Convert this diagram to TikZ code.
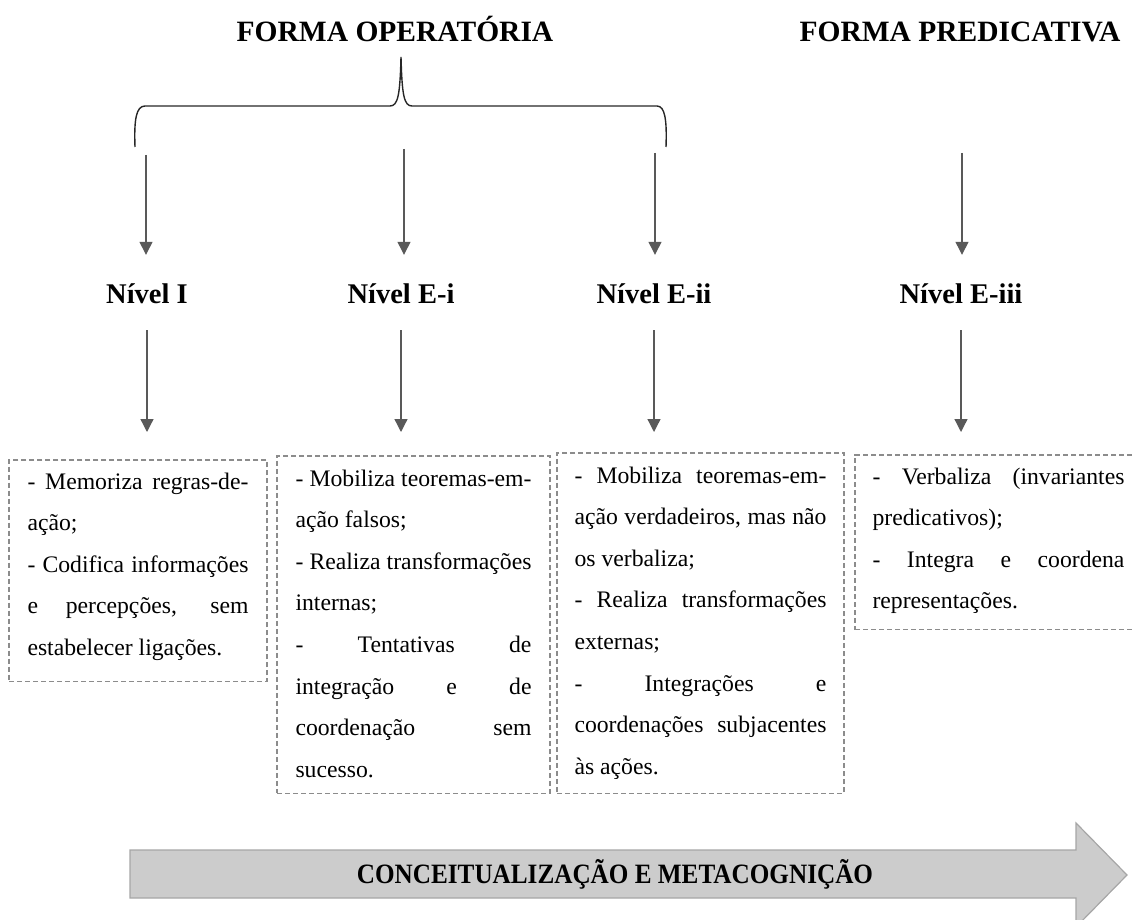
\documentclass[tikz,border=0pt]{standalone}
\usepackage{fontspec}
\setmainfont{Liberation Serif}
\usepackage{graphicx}
\usetikzlibrary{arrows.meta}

\tolerance=10000
\hbadness=10000
\hfuzz=4pt
\hyphenpenalty=10000
\exhyphenpenalty=10000

\newcommand{\topgap}[1]{\rule{0pt}{#1pt}}
\newcommand{\botgap}[1]{\rule[-#1pt]{0pt}{#1pt}}

\begin{document}
\begin{tikzpicture}[x = 1pt, y = -1pt,
        titulo/.style = {font = \fontsize{29.5}{32}\selectfont\bfseries, inner sep = 0pt, anchor = base},
        nivel/.style = {font = \fontsize{28.5}{32}\selectfont\bfseries, inner sep = 0pt, text height = 20pt, text depth = 0pt, anchor = base},
        caixa/.style = {draw = black!45, line width = 1.1pt, dash pattern = on 5pt off 3pt, anchor = north west,
            inner xsep = 18pt, inner ysep = 0pt, outer sep = 0pt, align = justify, font = \fontsize{23.7}{41.6}\selectfont},
        seta/.style = {draw = black!65, line width = 1.3pt, -{Triangle[width = 13pt, length = 13pt]}},
        chave/.style = {draw = black!85, line width = 1.4pt}]
    \useasboundingbox (0, 0) rectangle (1132, 920);

    \node[titulo] (fo) at (395, 42) {FORMA OPERATÓRIA};
    \node[titulo] (fp) at (960, 42) {FORMA PREDICATIVA};

    \draw[chave] (135, 147) .. controls (134, 120) and (136, 106) .. (145, 106) -- (390, 106)
        .. controls (398, 106) and (400, 95) .. (401, 57)
        .. controls (402, 95) and (404, 106) .. (412, 106) -- (657, 106)
        .. controls (665, 106) and (667, 120) .. (666, 147);

    \coordinate (t1) at (146, 155);
    \coordinate (t2) at (404, 149);
    \coordinate (t3) at (655, 153);
    \coordinate (t4) at (962, 153);

    \node[nivel] (n1) at (147, 303) {Nível I};
    \node[nivel] (n2) at (401, 303) {Nível E-i};
    \node[nivel] (n3) at (654, 303) {Nível E-ii};
    \node[nivel] (n4) at (961, 303) {Nível E-iii};

    \node[caixa, text width = 221pt, inner xsep = 18.5pt] (c1) at (9, 460)
        {\topgap{29}- Memoriza regras-de-\linebreak ação;\\- Codifica informações\linebreak e percepções, sem\linebreak estabelecer ligações.\botgap{26}};
    \node[caixa, text width = 236pt, inner xsep = 18.5pt] (c2) at (277, 456)
        {\topgap{30}- Mobiliza teoremas-em-\linebreak ação falsos;\\- Realiza transformações\linebreak internas;\\- Tentativas de\linebreak integração e de\linebreak coordenação sem\linebreak sucesso.\botgap{16}};
    \node[caixa, text width = 252pt, inner xsep = 17.5pt] (c3) at (557, 453)
        {\topgap{30}- Mobiliza teoremas-em-\linebreak ação verdadeiros, mas não\linebreak os verbaliza;\\- Realiza transformações\linebreak externas;\\- Integrações e\linebreak coordenações subjacentes\linebreak às ações.\botgap{19}};
    \node[caixa, text width = 252pt, inner xsep = 17.5pt] (c4) at (855, 455)
        {\topgap{29}- Verbaliza (invariantes\linebreak predicativos);\\- Integra e coordena\linebreak representações.\botgap{21}};

    \foreach \i in {1, 2, 3, 4}
        \draw[seta, shorten > = 28pt] (t\i) -- (t\i |- n\i.north);
    \foreach \i/\s in {1/28, 2/24, 3/21, 4/23}
        \draw[seta, shorten < = 27pt, shorten > = \s pt] (n\i.south) -- (n\i.south |- c\i.north);

    \draw[fill = black!20, draw = black!35, line width = 1.2pt] (130, 850) -- (1076, 850) -- (1076, 823)
        -- (1127, 875) -- (1076, 927) -- (1076, 898) -- (130, 898) -- cycle;
    \node[font = \fontsize{28}{30}\selectfont\bfseries, inner sep = 0pt] (meta) at (615, 874)
        {\scalebox{0.9}[1]{CONCEITUALIZAÇÃO E METACOGNIÇÃO}};
\end{tikzpicture}
\end{document}
